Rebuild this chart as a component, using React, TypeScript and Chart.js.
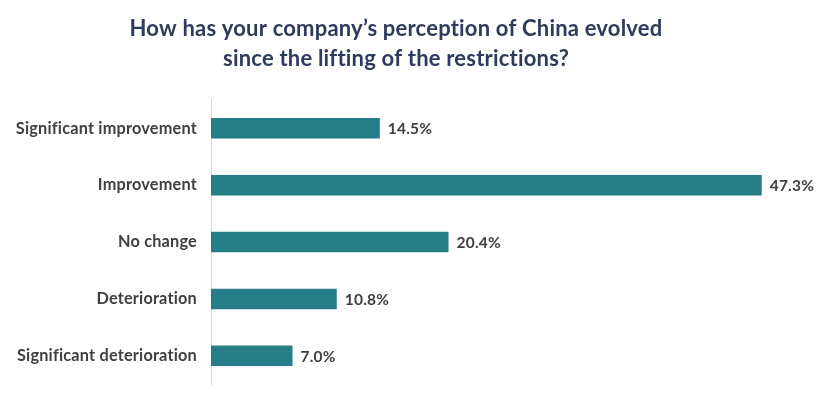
import React, { useEffect, useRef } from "react";
import { Chart, registerables } from "chart.js";

Chart.register(...registerables);

const titleLines = [
  "How has your company\u2019s perception of China evolved",
  "since the lifting of the restrictions?",
];
const categories = [
  "Significant improvement",
  "Improvement",
  "No change",
  "Deterioration",
  "Significant deterioration",
];
const values = [14.5, 47.3, 20.4, 10.8, 7.0];

const FONT = "Lato, 'Open Sans', sans-serif";

const noLigatures = {
  id: "noLigatures",
  beforeDraw(chart: any) {
    const ctx = chart.ctx as any;
    ctx.letterSpacing = "0.2px";
  },
};

const valueLabels = {
  id: "valueLabels",
  afterDatasetsDraw(chart: any) {
    const ctx = chart.ctx;
    const meta = chart.getDatasetMeta(0);
    ctx.save();
    ctx.font = `bold 15.5px ${FONT}`;
    ctx.fillStyle = "#404040";
    ctx.textAlign = "left";
    ctx.textBaseline = "middle";
    meta.data.forEach((bar: any, i: number) => {
      ctx.fillText(values[i].toFixed(1) + "%", bar.x + 8, bar.y + 1);
    });
    ctx.restore();
  },
};

export default function App() {
  const ref = useRef<HTMLCanvasElement>(null);
  useEffect(() => {
    if (!ref.current) return;
    const chart = new Chart(ref.current, {
      type: "bar",
      data: {
        labels: categories,
        datasets: [
          {
            data: values,
            backgroundColor: "#267D87",
            borderWidth: 0,
            barPercentage: 0.72,
            categoryPercentage: 0.5,
          },
        ],
      },
      options: {
        indexAxis: "y",
        animation: false,
        responsive: false,
        maintainAspectRatio: false,
        layout: { padding: { left: 0, right: 41, bottom: 13, top: 0 } },
        plugins: {
          legend: { display: false },
          tooltip: { enabled: false },
          title: {
            display: true,
            text: titleLines,
            color: "#2E3B5C",
            font: { family: FONT, size: 22, weight: "bold", lineHeight: 1.36 },
            padding: { top: 14, bottom: 26 },
          },
        },
        scales: {
          x: {
            display: false,
            min: 0,
            max: 49.9,
          },
          y: {
            grid: { display: false },
            border: { display: true, color: "#D9D9D9", width: 1 },
            ticks: {
              color: "#404040",
              font: { family: FONT, size: 16.3, weight: "bold" },
              padding: 6,
            },
            afterFit(scale: any) {
              scale.width = 211;
            },
          },
        },
      },
      plugins: [noLigatures, valueLabels],
    });
    return () => chart.destroy();
  }, []);
  return (
    <div style={{ position: "fixed", left: 0, top: 0, width: 833, height: 400, background: "#fff" }}>
      <canvas ref={ref} width={833} height={400} />
    </div>
  );
}
